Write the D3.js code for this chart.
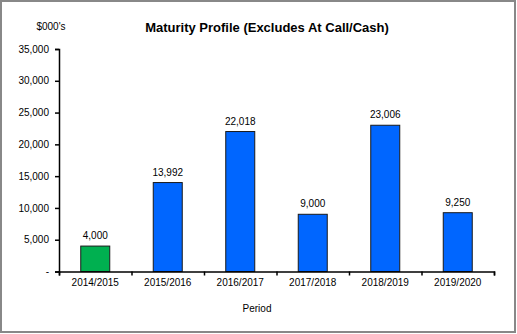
<!DOCTYPE html>
<html><head><meta charset="utf-8">
<script src="https://cdn.jsdelivr.net/npm/d3@7"></script>
<style>body{margin:0;background:#fff}svg{display:block}text{font-family:Arial,"Liberation Sans",sans-serif}</style>
</head><body><svg id="c" width="517" height="334"></svg>
<script>
const categories = ["2014/2015","2015/2016","2016/2017","2017/2018","2018/2019","2019/2020"];
const values = [4000,13992,22018,9000,23006,9250];
const barColors = ["#00B050","#0066FF","#0066FF","#0066FF","#0066FF","#0066FF"];
const yTicks = [0,5000,10000,15000,20000,25000,30000,35000];

(function(){
const svg = d3.select("#c");
svg.append("rect").attr("x",1).attr("y",1).attr("width",514).attr("height",331)
  .attr("fill","#fff").attr("stroke","#888").attr("stroke-width",2);

const pL=59, pR=494, pT=49, pB=271.5;
const x = d3.scaleBand().domain(categories).range([pL,pR]).paddingInner(0.6).paddingOuter(0.3);
const y = d3.scaleLinear().domain([0,35000]).range([pB,pT]);
const fmt = d3.format(",");

const yAxis = svg.append("g").attr("transform",`translate(${pL},0)`)
  .call(d3.axisLeft(y).tickValues(yTicks).tickSize(4).tickPadding(6).tickFormat(d=>d===0?"-":fmt(d)));
yAxis.selectAll("text").attr("font-size",10).attr("fill","#000").style("font-family","Arial, 'Liberation Sans', sans-serif");
yAxis.selectAll("line,path").attr("stroke","#000").attr("stroke-width",1.5);

svg.selectAll("rect.bar").data(values).join("rect").attr("class","bar")
  .attr("x",(d,i)=>x(categories[i])).attr("width",x.bandwidth())
  .attr("y",d=>y(d)).attr("height",d=>y(0)-y(d))
  .attr("fill",(d,i)=>barColors[i]).attr("stroke","#1a1a1a").attr("stroke-width",1);

const xb = d3.scalePoint().domain(d3.range(categories.length+1)).range([pL,pR]);
const xAxis = svg.append("g").attr("transform",`translate(0,${pB})`)
  .call(d3.axisBottom(xb).tickSize(4).tickFormat(""));
xAxis.selectAll("line,path").attr("stroke","#000").attr("stroke-width",1.5);
svg.selectAll("text.xl").data(categories).join("text").attr("class","xl")
  .attr("x",d=>x(d)+x.bandwidth()/2).attr("y",285.5).attr("text-anchor","middle")
  .attr("font-size",10).text(d=>d);

svg.selectAll("text.vl").data(values).join("text").attr("class","vl")
  .attr("x",(d,i)=>x(categories[i])+x.bandwidth()/2).attr("y",d=>y(d)-7)
  .attr("text-anchor","middle").attr("font-size",10).text(d=>fmt(d));

svg.append("text").attr("x",267).attr("y",32).attr("text-anchor","middle")
  .attr("font-size",13).attr("font-weight","bold").text("Maturity Profile (Excludes At Call/Cash)");
svg.append("text").attr("x",51).attr("y",30).attr("text-anchor","middle")
  .attr("font-size",10).text("$000's");
svg.append("text").attr("x",257).attr("y",312).attr("text-anchor","middle")
  .attr("font-size",10).text("Period");
})();
</script></body></html>
